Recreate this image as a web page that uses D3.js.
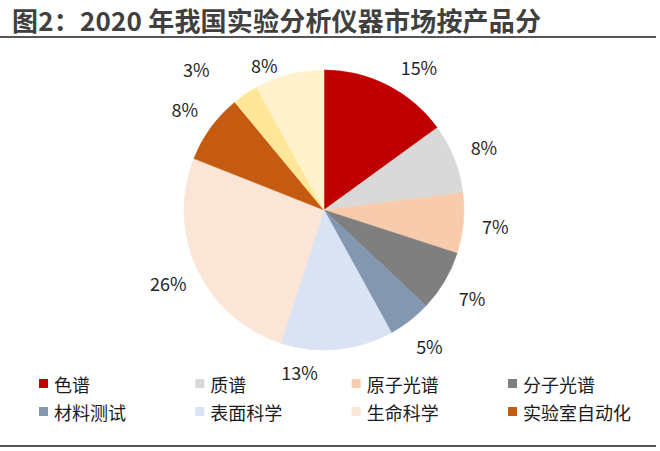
<!DOCTYPE html>
<html><head><meta charset="utf-8">
<script src="https://cdn.jsdelivr.net/npm/d3@7"></script>
<style>
html,body{margin:0;padding:0;background:#fff;}
text{font-family:"Noto Sans CJK SC","Noto Sans",sans-serif;}
</style></head>
<body>
<svg id="chart" width="660" height="451"></svg>
<script>
const titleText = "图2：2020 年我国实验分析仪器市场按产品分";
const categories = ["色谱","质谱","原子光谱","分子光谱","材料测试","表面科学","生命科学","实验室自动化","其他仪器","其他"];
const values = [15, 8, 7, 7, 5, 13, 26, 8, 3, 8];
const colors = ["#C00000","#D9D9D9","#F8CBAD","#7F7F7F","#8497B0","#DAE3F3","#FBE5D6","#C55A11","#FFE699","#FFF2CC"];
const legendItems = ["色谱","质谱","原子光谱","分子光谱","材料测试","表面科学","生命科学","实验室自动化"];

const svg = d3.select("#chart");
const cx = 324, cy = 210, R = 140;

// title
svg.append("text").attr("x", 12).attr("y", 31)
  .attr("font-size", 26).attr("font-weight", "bold").attr("fill", "#404040")
  .attr("letter-spacing", 0.2)
  .text(titleText);
svg.append("line").attr("x1", 0).attr("x2", 656).attr("y1", 37).attr("y2", 37)
  .attr("stroke", "#555").attr("stroke-width", 2);
svg.append("line").attr("x1", 0).attr("x2", 656).attr("y1", 446).attr("y2", 446)
  .attr("stroke", "#555").attr("stroke-width", 2);

const data = categories.map((c, i) => ({name: c, value: values[i], color: colors[i]}));
const pie = d3.pie().value(d => d.value).sort(null);
const arcs = pie(data);
const arc = d3.arc().innerRadius(0).outerRadius(R);

const g = svg.append("g").attr("transform", `translate(${cx},${cy})`);
g.selectAll("path").data(arcs).join("path")
  .attr("d", arc).attr("fill", d => d.data.color)
  .attr("stroke", d => d.data.color).attr("stroke-width", 0.5);

// label layout: outside, best-fit style nudges (degrees / radius)
const nudge = {0: [6.5, 0], 5: [14, -8], 8: [-8, 18], 9: [-8, -15]};
const fmt = d3.format(".0%");
g.selectAll("text.lbl").data(arcs).join("text")
  .attr("class", "lbl")
  .each(function(d, i) {
    const n = nudge[i] || [0, 0];
    const a = (d.startAngle + d.endAngle) / 2 + n[0] * Math.PI / 180;
    const r = R + 32 + n[1];
    d3.select(this)
      .attr("x", r * Math.sin(a))
      .attr("y", -r * Math.cos(a));
  })
  .attr("text-anchor", "middle").attr("dominant-baseline", "central")
  .attr("font-size", 18).attr("fill", "#262626")
  .text(d => fmt(d.data.value / 100));

// legend
const colX = d3.scalePoint().domain([0,1,2,3]).range([39, 508]);
const rowY = d3.scalePoint().domain([0,1]).range([384, 412]);
const lg = svg.append("g");
legendItems.forEach((name, i) => {
  const idx = categories.indexOf(name);
  const x = colX(i % 4), y = rowY(Math.floor(i / 4));
  lg.append("rect").attr("x", x).attr("y", y - 5).attr("width", 9).attr("height", 9)
    .attr("fill", colors[idx]);
  lg.append("text").attr("x", x + 15).attr("y", y).attr("dominant-baseline", "central")
    .attr("font-size", 18).attr("fill", "#1a1a1a").text(name);
});
</script>
</body></html>
